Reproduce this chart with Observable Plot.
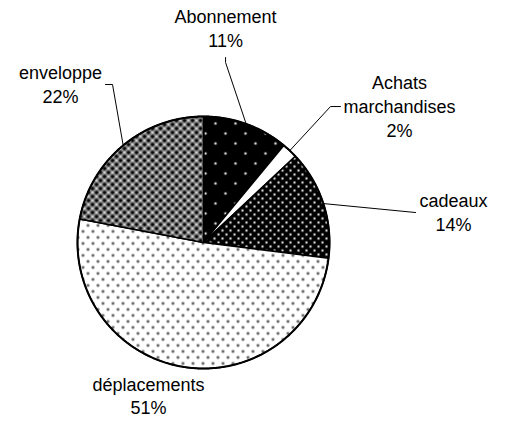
<!DOCTYPE html>
<html><head><meta charset="utf-8">
<script src="https://cdn.jsdelivr.net/npm/d3@7"></script>
<script src="https://cdn.jsdelivr.net/npm/@observablehq/plot@0.6"></script>
<style>body{margin:0;background:#fff}</style>
</head><body><div id="chart"></div>
<script>
// ---- data ----
const categories = ["Abonnement", "Achats marchandises", "cadeaux", "déplacements", "enveloppe"];
const labelNames = ["Abonnement", "Achats\nmarchandises", "cadeaux", "déplacements", "enveloppe"];
const shares = [11, 2, 14, 51, 22];
const pctLabels = ["11%", "2%", "14%", "51%", "22%"];

// ---- styles / layout (in pie-radius units) ----
const fills = ["url(#pAbon)", "white", "url(#pCad)", "url(#pDep)", "url(#pEnv)"];
const labelPos = [[0.175, 1.548], [1.556, 0.841], [1.984, 0.095], [-0.437, -1.365], [-1.135, 1.111]];
const leaderBends = [[[0.175, 1.429], [0.175, 1.468]], [[1.008, 1.079], [1.087, 1.079]], [[1.683, 0.238]], null, [[-0.722, 1.254], [-0.778, 1.254]]];

const arcs = d3.pie().sort(null).value(d => d)(shares);
const slices = arcs.map((a, i) => {
  const pts = [{x: 0, y: 0}];
  const n = Math.max(2, Math.ceil((a.endAngle - a.startAngle) / (Math.PI / 360)));
  for (let k = 0; k <= n; k++) {
    const t = a.startAngle + (a.endAngle - a.startAngle) * k / n;
    pts.push({x: Math.sin(t), y: Math.cos(t)});
  }
  pts.push({x: 0, y: 0});
  return pts;
});
const outline = d3.range(0, 721).map(k => ({x: Math.sin(k * Math.PI / 360), y: Math.cos(k * Math.PI / 360)}));

const leaders = [];
arcs.forEach((a, i) => {
  if (!leaderBends[i]) return;
  const m = (a.startAngle + a.endAngle) / 2;
  leaders.push({i, x: Math.sin(m), y: Math.cos(m)});
  leaderBends[i].forEach(([x, y]) => leaders.push({i, x, y}));
});

const labels = categories.map((c, i) => ({
  text: labelNames[i] + "\n" + pctLabels[i],
  x: labelPos[i][0], y: labelPos[i][1]
}));

const chart = Plot.plot({
  width: 509, height: 421,
  marginLeft: 77, marginRight: 180, marginTop: 116, marginBottom: 53,
  x: {domain: [-1, 1], axis: null},
  y: {domain: [-1, 1], axis: null},
  style: {fontFamily: "'Liberation Sans', Arial, sans-serif", background: "white", color: "black"},
  marks: [
    ...slices.map((pts, i) => Plot.line(pts, {x: "x", y: "y", fill: fills[i], stroke: "black", strokeWidth: 1.5, curve: "linear", strokeLinejoin: "miter"})),
    Plot.line(outline, {x: "x", y: "y", stroke: "black", strokeWidth: 2, curve: "linear"}),
    Plot.line(leaders, {x: "x", y: "y", z: "i", stroke: "black", strokeWidth: 1, curve: "linear", strokeLinejoin: "miter"}),
    Plot.text(labels, {x: "x", y: "y", text: "text", lineAnchor: "bottom", lineHeight: 1.333, fontSize: 18, textAnchor: "middle", fill: "black"})
  ]
});

const defs = `
<pattern id="pAbon" width="20" height="20" patternUnits="userSpaceOnUse">
  <rect width="20" height="20" fill="#000"/>
  <circle cx="15" cy="3" r="1.3" fill="#ddd"/><circle cx="5" cy="13" r="1.3" fill="#ddd"/>
</pattern>
<pattern id="pCad" width="8" height="8" patternUnits="userSpaceOnUse">
  <rect width="8" height="8" fill="#000"/>
  <circle cx="2" cy="2" r="1.2" fill="#e0e0e0"/><circle cx="6" cy="6" r="1.2" fill="#e0e0e0"/>
</pattern>
<pattern id="pDep" width="10" height="12" patternUnits="userSpaceOnUse">
  <rect width="10" height="12" fill="#fff"/>
  <circle cx="2.5" cy="3" r="1.4" fill="#555"/><circle cx="7.5" cy="9" r="1.4" fill="#555"/>
</pattern>
<pattern id="pEnv" width="8" height="8" patternUnits="userSpaceOnUse">
  <rect width="8" height="8" fill="#888"/>
  <circle cx="0" cy="0" r="1.8" fill="#000"/><circle cx="8" cy="0" r="1.8" fill="#000"/>
  <circle cx="0" cy="8" r="1.8" fill="#000"/><circle cx="8" cy="8" r="1.8" fill="#000"/>
  <circle cx="4" cy="4" r="1.8" fill="#000"/>
  <circle cx="4" cy="0" r="0.9" fill="#fff"/><circle cx="0" cy="4" r="0.9" fill="#fff"/>
  <circle cx="8" cy="4" r="0.9" fill="#fff"/><circle cx="4" cy="8" r="0.9" fill="#fff"/>
</pattern>`;
const d = document.createElementNS("http://www.w3.org/2000/svg", "defs");
d.innerHTML = defs;
chart.insertBefore(d, chart.firstChild);
document.getElementById("chart").appendChild(chart);
</script>
</body></html>
